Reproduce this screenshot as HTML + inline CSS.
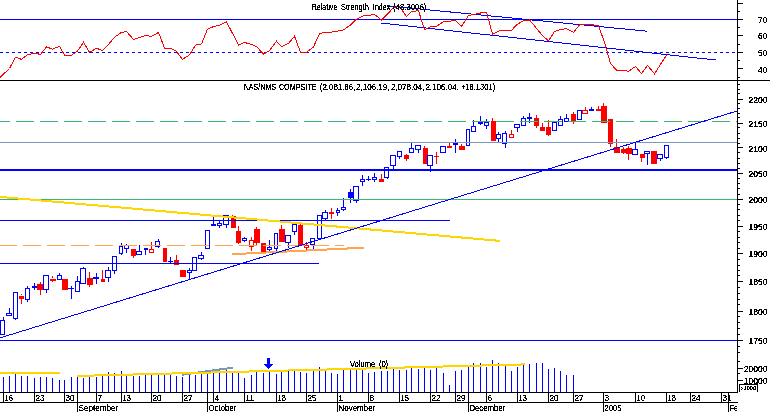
<!DOCTYPE html>
<html><head><meta charset="utf-8"><title>Chart</title>
<style>
html,body{margin:0;padding:0;background:#fff;width:770px;height:412px;overflow:hidden;}
svg{display:block;}
text{font-family:"Liberation Sans",sans-serif;fill:#000;}
</style></head>
<body>
<svg width="770" height="412" viewBox="0 0 770 412" shape-rendering="crispEdges">
<defs><filter id="th" x="0" y="0" width="100%" height="100%" filterUnits="userSpaceOnUse" color-interpolation-filters="sRGB"><feComponentTransfer><feFuncA type="discrete" tableValues="0 1 1"/></feComponentTransfer></filter><clipPath id="cp"><rect x="0" y="392" width="737" height="20"/></clipPath></defs>
<rect x="0" y="0" width="770" height="412" fill="#fff"/>
<rect x="0" y="19" width="737" height="1" fill="#0000ff"/>
<line x1="0" y1="52.5" x2="737" y2="52.5" stroke="#0000ff" stroke-width="1" stroke-dasharray="3 3"/>
<line x1="387" y1="5.8" x2="647" y2="31.2" stroke="#0000ff" stroke-width="1" />
<line x1="381" y1="23" x2="715.5" y2="60" stroke="#0000ff" stroke-width="1" />
<polyline fill="none" stroke="#ff0000" stroke-width="1" points="0,77.4 9.5,68.5 15.5,57.2 21.5,59.4 27.5,54.7 34.5,53.2 40.5,54.4 46.5,46.9 52.5,49.1 59.5,46.4 64.5,55.2 71.5,55.2 77.5,51.1 83.5,42.4 89.5,52.4 96.5,48.2 102.5,50.6 108.5,44.4 114.5,37.3 121.5,32.4 126.5,31.6 133.5,39.4 139.5,37.4 145.5,35.6 151.5,36.4 158.5,32.4 164.5,48.1 170.5,48.4 176.5,51.4 182.5,59.4 189.5,54.9 195.5,45.2 201.5,43.9 207.5,29.1 213.5,26.6 219.5,25.3 226.5,22 232.5,33.3 238.5,45.2 244.5,42.4 251.5,44.5 256.5,46.5 263.5,54.2 269.5,50.7 276.5,41.2 281.5,46.5 288.5,43.5 294.5,36.2 300.5,52.4 306.5,52.4 313.5,46.9 319.5,33.6 325.5,32.4 331.5,32.1 337.5,31.1 343.5,29.9 350.5,24.9 356.5,19.1 362.5,16.1 368.5,15.3 374.5,14.5 381.5,19.9 387.5,14.1 393.5,7.5 399.5,6.3 406.5,16.6 411.5,11.3 418.5,10.8 424.5,29.6 430.5,26.6 436.5,26.3 443.5,21.6 449.5,21.3 455.5,20.3 461.5,26.3 468.5,15.5 473.5,14.6 480.5,13 486.5,12.1 492.5,34.1 498.5,31.1 505.5,30.3 511.5,30.3 517.5,24.1 523.5,20.8 529.5,19.9 536.5,28.3 542.5,35.7 548.5,40.7 554.5,31.6 560.5,29.6 566.5,28.6 573.5,32.4 579.5,24.9 585.5,24.6 591.5,24.6 598.5,25.8 604.5,42.4 610.5,63.5 616.5,70.2 623.5,70.5 628.5,71.3 635.5,66.5 641.5,73.5 647.5,65.5 654.5,73.8 660.5,64.4 666.5,55.2"/>
<rect x="3" y="317" width="1" height="3" fill="#0000ff"/>
<rect x="0" y="320" width="5" height="1" fill="#0000ff"/>
<rect x="0" y="334" width="5" height="1" fill="#0000ff"/>
<rect x="0" y="320" width="1" height="15" fill="#0000ff"/>
<rect x="4" y="320" width="1" height="15" fill="#0000ff"/>
<rect x="9" y="308" width="1" height="5" fill="#0000ff"/>
<rect x="6" y="313" width="6" height="1" fill="#0000ff"/>
<rect x="6" y="315" width="6" height="1" fill="#0000ff"/>
<rect x="6" y="313" width="1" height="3" fill="#0000ff"/>
<rect x="11" y="313" width="1" height="3" fill="#0000ff"/>
<rect x="15" y="319" width="1" height="1" fill="#0000ff"/>
<rect x="13" y="292" width="5" height="1" fill="#0000ff"/>
<rect x="13" y="318" width="5" height="1" fill="#0000ff"/>
<rect x="13" y="292" width="1" height="27" fill="#0000ff"/>
<rect x="17" y="292" width="1" height="27" fill="#0000ff"/>
<rect x="21" y="294" width="1" height="1" fill="#ff0000"/>
<rect x="21" y="299" width="1" height="5" fill="#ff0000"/>
<rect x="19" y="296" width="5" height="3" fill="#ff0000"/>
<rect x="27" y="286" width="1" height="2" fill="#0000ff"/>
<rect x="27" y="300" width="1" height="2" fill="#0000ff"/>
<rect x="25" y="288" width="5" height="1" fill="#0000ff"/>
<rect x="25" y="299" width="5" height="1" fill="#0000ff"/>
<rect x="25" y="288" width="1" height="12" fill="#0000ff"/>
<rect x="29" y="288" width="1" height="12" fill="#0000ff"/>
<rect x="34" y="283" width="1" height="3" fill="#0000ff"/>
<rect x="34" y="288" width="1" height="2" fill="#0000ff"/>
<rect x="32" y="286" width="5" height="2" fill="#0000ff"/>
<rect x="40" y="282" width="1" height="2" fill="#ff0000"/>
<rect x="40" y="290" width="1" height="5" fill="#ff0000"/>
<rect x="37" y="284" width="6" height="6" fill="#ff0000"/>
<rect x="46" y="290" width="1" height="3" fill="#0000ff"/>
<rect x="43" y="275" width="6" height="1" fill="#0000ff"/>
<rect x="43" y="289" width="6" height="1" fill="#0000ff"/>
<rect x="43" y="275" width="1" height="15" fill="#0000ff"/>
<rect x="48" y="275" width="1" height="15" fill="#0000ff"/>
<rect x="52" y="276" width="1" height="2" fill="#ff0000"/>
<rect x="52" y="281" width="1" height="1" fill="#ff0000"/>
<rect x="50" y="279" width="6" height="2" fill="#ff0000"/>
<rect x="59" y="273" width="1" height="2" fill="#0000ff"/>
<rect x="57" y="275" width="5" height="1" fill="#0000ff"/>
<rect x="57" y="279" width="5" height="1" fill="#0000ff"/>
<rect x="57" y="275" width="1" height="5" fill="#0000ff"/>
<rect x="61" y="275" width="1" height="5" fill="#0000ff"/>
<rect x="62" y="279" width="6" height="11" fill="#ff0000"/>
<rect x="71" y="286" width="1" height="2" fill="#0000ff"/>
<rect x="71" y="289" width="1" height="10" fill="#0000ff"/>
<rect x="68" y="288" width="6" height="1" fill="#0000ff"/>
<rect x="77" y="276" width="1" height="5" fill="#0000ff"/>
<rect x="75" y="281" width="5" height="1" fill="#0000ff"/>
<rect x="75" y="291" width="5" height="1" fill="#0000ff"/>
<rect x="75" y="281" width="1" height="11" fill="#0000ff"/>
<rect x="79" y="281" width="1" height="11" fill="#0000ff"/>
<rect x="83" y="267" width="1" height="1" fill="#0000ff"/>
<rect x="80" y="268" width="6" height="1" fill="#0000ff"/>
<rect x="80" y="283" width="6" height="1" fill="#0000ff"/>
<rect x="80" y="268" width="1" height="16" fill="#0000ff"/>
<rect x="85" y="268" width="1" height="16" fill="#0000ff"/>
<rect x="89" y="272" width="1" height="6" fill="#ff0000"/>
<rect x="89" y="285" width="1" height="2" fill="#ff0000"/>
<rect x="87" y="278" width="6" height="7" fill="#ff0000"/>
<rect x="96" y="273" width="1" height="4" fill="#0000ff"/>
<rect x="96" y="279" width="1" height="5" fill="#0000ff"/>
<rect x="93" y="277" width="6" height="2" fill="#0000ff"/>
<rect x="102" y="270" width="1" height="9" fill="#ff0000"/>
<rect x="101" y="279" width="4" height="3" fill="#ff0000"/>
<rect x="108" y="267" width="1" height="3" fill="#0000ff"/>
<rect x="108" y="278" width="1" height="4" fill="#0000ff"/>
<rect x="105" y="270" width="6" height="1" fill="#0000ff"/>
<rect x="105" y="277" width="6" height="1" fill="#0000ff"/>
<rect x="105" y="270" width="1" height="8" fill="#0000ff"/>
<rect x="110" y="270" width="1" height="8" fill="#0000ff"/>
<rect x="114" y="271" width="1" height="3" fill="#0000ff"/>
<rect x="112" y="256" width="5" height="1" fill="#0000ff"/>
<rect x="112" y="270" width="5" height="1" fill="#0000ff"/>
<rect x="112" y="256" width="1" height="15" fill="#0000ff"/>
<rect x="116" y="256" width="1" height="15" fill="#0000ff"/>
<rect x="121" y="243" width="1" height="3" fill="#0000ff"/>
<rect x="121" y="254" width="1" height="1" fill="#0000ff"/>
<rect x="119" y="246" width="4" height="1" fill="#0000ff"/>
<rect x="119" y="253" width="4" height="1" fill="#0000ff"/>
<rect x="119" y="246" width="1" height="8" fill="#0000ff"/>
<rect x="122" y="246" width="1" height="8" fill="#0000ff"/>
<rect x="126" y="244" width="1" height="1" fill="#0000ff"/>
<rect x="126" y="249" width="1" height="4" fill="#0000ff"/>
<rect x="124" y="245" width="5" height="1" fill="#0000ff"/>
<rect x="124" y="248" width="5" height="1" fill="#0000ff"/>
<rect x="124" y="245" width="1" height="4" fill="#0000ff"/>
<rect x="128" y="245" width="1" height="4" fill="#0000ff"/>
<rect x="133" y="256" width="1" height="2" fill="#ff0000"/>
<rect x="131" y="249" width="5" height="7" fill="#ff0000"/>
<rect x="139" y="245" width="1" height="6" fill="#0000ff"/>
<rect x="136" y="251" width="6" height="1" fill="#0000ff"/>
<rect x="136" y="254" width="6" height="1" fill="#0000ff"/>
<rect x="136" y="251" width="1" height="4" fill="#0000ff"/>
<rect x="141" y="251" width="1" height="4" fill="#0000ff"/>
<rect x="145" y="250" width="1" height="5" fill="#0000ff"/>
<rect x="144" y="248" width="4" height="2" fill="#0000ff"/>
<rect x="151" y="242" width="1" height="7" fill="#ff0000"/>
<rect x="149" y="249" width="5" height="1" fill="#ff0000"/>
<rect x="149" y="252" width="5" height="1" fill="#ff0000"/>
<rect x="149" y="249" width="1" height="4" fill="#ff0000"/>
<rect x="153" y="249" width="1" height="4" fill="#ff0000"/>
<rect x="158" y="239" width="1" height="2" fill="#0000ff"/>
<rect x="158" y="247" width="1" height="1" fill="#0000ff"/>
<rect x="155" y="241" width="5" height="1" fill="#0000ff"/>
<rect x="155" y="246" width="5" height="1" fill="#0000ff"/>
<rect x="155" y="241" width="1" height="6" fill="#0000ff"/>
<rect x="159" y="241" width="1" height="6" fill="#0000ff"/>
<rect x="163" y="248" width="4" height="14" fill="#ff0000"/>
<rect x="170" y="257" width="1" height="4" fill="#0000ff"/>
<rect x="170" y="262" width="1" height="2" fill="#0000ff"/>
<rect x="168" y="261" width="5" height="1" fill="#0000ff"/>
<rect x="176" y="255" width="1" height="5" fill="#ff0000"/>
<rect x="174" y="260" width="5" height="5" fill="#ff0000"/>
<rect x="180" y="270" width="6" height="7" fill="#ff0000"/>
<rect x="189" y="268" width="1" height="2" fill="#0000ff"/>
<rect x="189" y="273" width="1" height="7" fill="#0000ff"/>
<rect x="187" y="270" width="5" height="1" fill="#0000ff"/>
<rect x="187" y="272" width="5" height="1" fill="#0000ff"/>
<rect x="187" y="270" width="1" height="3" fill="#0000ff"/>
<rect x="191" y="270" width="1" height="3" fill="#0000ff"/>
<rect x="192" y="257" width="5" height="1" fill="#0000ff"/>
<rect x="192" y="270" width="5" height="1" fill="#0000ff"/>
<rect x="192" y="257" width="1" height="14" fill="#0000ff"/>
<rect x="196" y="257" width="1" height="14" fill="#0000ff"/>
<rect x="201" y="252" width="1" height="3" fill="#0000ff"/>
<rect x="201" y="259" width="1" height="1" fill="#0000ff"/>
<rect x="198" y="255" width="6" height="1" fill="#0000ff"/>
<rect x="198" y="258" width="6" height="1" fill="#0000ff"/>
<rect x="198" y="255" width="1" height="4" fill="#0000ff"/>
<rect x="203" y="255" width="1" height="4" fill="#0000ff"/>
<rect x="205" y="230" width="5" height="1" fill="#0000ff"/>
<rect x="205" y="248" width="5" height="1" fill="#0000ff"/>
<rect x="205" y="230" width="1" height="19" fill="#0000ff"/>
<rect x="209" y="230" width="1" height="19" fill="#0000ff"/>
<rect x="213" y="217" width="1" height="7" fill="#0000ff"/>
<rect x="211" y="224" width="5" height="2" fill="#0000ff"/>
<rect x="219" y="220" width="1" height="3" fill="#0000ff"/>
<rect x="219" y="226" width="1" height="2" fill="#0000ff"/>
<rect x="217" y="223" width="5" height="1" fill="#0000ff"/>
<rect x="217" y="225" width="5" height="1" fill="#0000ff"/>
<rect x="217" y="223" width="1" height="3" fill="#0000ff"/>
<rect x="221" y="223" width="1" height="3" fill="#0000ff"/>
<rect x="226" y="225" width="1" height="3" fill="#0000ff"/>
<rect x="223" y="215" width="6" height="1" fill="#0000ff"/>
<rect x="223" y="224" width="6" height="1" fill="#0000ff"/>
<rect x="223" y="215" width="1" height="10" fill="#0000ff"/>
<rect x="228" y="215" width="1" height="10" fill="#0000ff"/>
<rect x="232" y="215" width="1" height="1" fill="#ff0000"/>
<rect x="231" y="216" width="5" height="12" fill="#ff0000"/>
<rect x="238" y="226" width="1" height="5" fill="#ff0000"/>
<rect x="238" y="243" width="1" height="1" fill="#ff0000"/>
<rect x="236" y="231" width="5" height="12" fill="#ff0000"/>
<rect x="244" y="237" width="1" height="1" fill="#0000ff"/>
<rect x="244" y="241" width="1" height="1" fill="#0000ff"/>
<rect x="242" y="238" width="5" height="1" fill="#0000ff"/>
<rect x="242" y="240" width="5" height="1" fill="#0000ff"/>
<rect x="242" y="238" width="1" height="3" fill="#0000ff"/>
<rect x="246" y="238" width="1" height="3" fill="#0000ff"/>
<rect x="251" y="237" width="1" height="3" fill="#ff0000"/>
<rect x="251" y="247" width="1" height="4" fill="#ff0000"/>
<rect x="249" y="240" width="5" height="1" fill="#ff0000"/>
<rect x="249" y="246" width="5" height="1" fill="#ff0000"/>
<rect x="249" y="240" width="1" height="7" fill="#ff0000"/>
<rect x="253" y="240" width="1" height="7" fill="#ff0000"/>
<rect x="256" y="227" width="1" height="2" fill="#ff0000"/>
<rect x="256" y="243" width="1" height="2" fill="#ff0000"/>
<rect x="254" y="229" width="6" height="14" fill="#ff0000"/>
<rect x="261" y="243" width="5" height="9" fill="#ff0000"/>
<rect x="269" y="240" width="1" height="7" fill="#0000ff"/>
<rect x="269" y="250" width="1" height="2" fill="#0000ff"/>
<rect x="267" y="247" width="5" height="1" fill="#0000ff"/>
<rect x="267" y="249" width="5" height="1" fill="#0000ff"/>
<rect x="267" y="247" width="1" height="3" fill="#0000ff"/>
<rect x="271" y="247" width="1" height="3" fill="#0000ff"/>
<rect x="276" y="249" width="1" height="2" fill="#0000ff"/>
<rect x="274" y="233" width="4" height="1" fill="#0000ff"/>
<rect x="274" y="248" width="4" height="1" fill="#0000ff"/>
<rect x="274" y="233" width="1" height="16" fill="#0000ff"/>
<rect x="277" y="233" width="1" height="16" fill="#0000ff"/>
<rect x="281" y="225" width="1" height="4" fill="#ff0000"/>
<rect x="279" y="229" width="6" height="13" fill="#ff0000"/>
<rect x="288" y="243" width="1" height="5" fill="#0000ff"/>
<rect x="285" y="235" width="6" height="1" fill="#0000ff"/>
<rect x="285" y="242" width="6" height="1" fill="#0000ff"/>
<rect x="285" y="235" width="1" height="8" fill="#0000ff"/>
<rect x="290" y="235" width="1" height="8" fill="#0000ff"/>
<rect x="294" y="232" width="1" height="3" fill="#0000ff"/>
<rect x="292" y="224" width="5" height="1" fill="#0000ff"/>
<rect x="292" y="231" width="5" height="1" fill="#0000ff"/>
<rect x="292" y="224" width="1" height="8" fill="#0000ff"/>
<rect x="296" y="224" width="1" height="8" fill="#0000ff"/>
<rect x="300" y="222" width="1" height="3" fill="#ff0000"/>
<rect x="298" y="225" width="5" height="20" fill="#ff0000"/>
<rect x="306" y="242" width="1" height="3" fill="#ff0000"/>
<rect x="306" y="248" width="1" height="2" fill="#ff0000"/>
<rect x="304" y="245" width="5" height="1" fill="#ff0000"/>
<rect x="304" y="247" width="5" height="1" fill="#ff0000"/>
<rect x="304" y="245" width="1" height="3" fill="#ff0000"/>
<rect x="308" y="245" width="1" height="3" fill="#ff0000"/>
<rect x="313" y="245" width="1" height="4" fill="#0000ff"/>
<rect x="310" y="238" width="5" height="1" fill="#0000ff"/>
<rect x="310" y="244" width="5" height="1" fill="#0000ff"/>
<rect x="310" y="238" width="1" height="7" fill="#0000ff"/>
<rect x="314" y="238" width="1" height="7" fill="#0000ff"/>
<rect x="319" y="239" width="1" height="1" fill="#0000ff"/>
<rect x="317" y="215" width="5" height="1" fill="#0000ff"/>
<rect x="317" y="238" width="5" height="1" fill="#0000ff"/>
<rect x="317" y="215" width="1" height="24" fill="#0000ff"/>
<rect x="321" y="215" width="1" height="24" fill="#0000ff"/>
<rect x="325" y="210" width="1" height="2" fill="#0000ff"/>
<rect x="325" y="219" width="1" height="1" fill="#0000ff"/>
<rect x="322" y="212" width="6" height="1" fill="#0000ff"/>
<rect x="322" y="218" width="6" height="1" fill="#0000ff"/>
<rect x="322" y="212" width="1" height="7" fill="#0000ff"/>
<rect x="327" y="212" width="1" height="7" fill="#0000ff"/>
<rect x="331" y="208" width="1" height="4" fill="#ff0000"/>
<rect x="331" y="214" width="1" height="5" fill="#ff0000"/>
<rect x="329" y="212" width="5" height="2" fill="#ff0000"/>
<rect x="337" y="208" width="1" height="2" fill="#0000ff"/>
<rect x="337" y="213" width="1" height="3" fill="#0000ff"/>
<rect x="336" y="210" width="4" height="1" fill="#0000ff"/>
<rect x="336" y="212" width="4" height="1" fill="#0000ff"/>
<rect x="336" y="210" width="1" height="3" fill="#0000ff"/>
<rect x="339" y="210" width="1" height="3" fill="#0000ff"/>
<rect x="343" y="198" width="1" height="9" fill="#0000ff"/>
<rect x="343" y="210" width="1" height="1" fill="#0000ff"/>
<rect x="341" y="207" width="5" height="1" fill="#0000ff"/>
<rect x="341" y="209" width="5" height="1" fill="#0000ff"/>
<rect x="341" y="207" width="1" height="3" fill="#0000ff"/>
<rect x="345" y="207" width="1" height="3" fill="#0000ff"/>
<rect x="350" y="189" width="1" height="3" fill="#0000ff"/>
<rect x="350" y="198" width="1" height="5" fill="#0000ff"/>
<rect x="348" y="192" width="5" height="6" fill="#0000ff"/>
<rect x="356" y="201" width="1" height="2" fill="#0000ff"/>
<rect x="353" y="186" width="6" height="1" fill="#0000ff"/>
<rect x="353" y="200" width="6" height="1" fill="#0000ff"/>
<rect x="353" y="186" width="1" height="15" fill="#0000ff"/>
<rect x="358" y="186" width="1" height="15" fill="#0000ff"/>
<rect x="362" y="175" width="1" height="4" fill="#0000ff"/>
<rect x="362" y="182" width="1" height="4" fill="#0000ff"/>
<rect x="360" y="179" width="5" height="1" fill="#0000ff"/>
<rect x="360" y="181" width="5" height="1" fill="#0000ff"/>
<rect x="360" y="179" width="1" height="3" fill="#0000ff"/>
<rect x="364" y="179" width="1" height="3" fill="#0000ff"/>
<rect x="368" y="176" width="1" height="3" fill="#0000ff"/>
<rect x="368" y="180" width="1" height="1" fill="#0000ff"/>
<rect x="366" y="179" width="5" height="1" fill="#0000ff"/>
<rect x="374" y="173" width="1" height="4" fill="#0000ff"/>
<rect x="374" y="180" width="1" height="2" fill="#0000ff"/>
<rect x="372" y="177" width="5" height="1" fill="#0000ff"/>
<rect x="372" y="179" width="5" height="1" fill="#0000ff"/>
<rect x="372" y="177" width="1" height="3" fill="#0000ff"/>
<rect x="376" y="177" width="1" height="3" fill="#0000ff"/>
<rect x="381" y="174" width="1" height="5" fill="#ff0000"/>
<rect x="379" y="179" width="5" height="3" fill="#ff0000"/>
<rect x="387" y="178" width="1" height="1" fill="#0000ff"/>
<rect x="384" y="167" width="5" height="1" fill="#0000ff"/>
<rect x="384" y="177" width="5" height="1" fill="#0000ff"/>
<rect x="384" y="167" width="1" height="11" fill="#0000ff"/>
<rect x="388" y="167" width="1" height="11" fill="#0000ff"/>
<rect x="393" y="166" width="1" height="3" fill="#0000ff"/>
<rect x="390" y="155" width="6" height="1" fill="#0000ff"/>
<rect x="390" y="165" width="6" height="1" fill="#0000ff"/>
<rect x="390" y="155" width="1" height="11" fill="#0000ff"/>
<rect x="395" y="155" width="1" height="11" fill="#0000ff"/>
<rect x="399" y="157" width="1" height="2" fill="#0000ff"/>
<rect x="397" y="151" width="5" height="1" fill="#0000ff"/>
<rect x="397" y="156" width="5" height="1" fill="#0000ff"/>
<rect x="397" y="151" width="1" height="6" fill="#0000ff"/>
<rect x="401" y="151" width="1" height="6" fill="#0000ff"/>
<rect x="406" y="154" width="1" height="1" fill="#ff0000"/>
<rect x="406" y="159" width="1" height="2" fill="#ff0000"/>
<rect x="404" y="155" width="5" height="4" fill="#ff0000"/>
<rect x="411" y="142" width="1" height="6" fill="#0000ff"/>
<rect x="409" y="148" width="5" height="1" fill="#0000ff"/>
<rect x="409" y="152" width="5" height="1" fill="#0000ff"/>
<rect x="409" y="148" width="1" height="5" fill="#0000ff"/>
<rect x="413" y="148" width="1" height="5" fill="#0000ff"/>
<rect x="418" y="150" width="1" height="3" fill="#0000ff"/>
<rect x="415" y="145" width="6" height="1" fill="#0000ff"/>
<rect x="415" y="149" width="6" height="1" fill="#0000ff"/>
<rect x="415" y="145" width="1" height="5" fill="#0000ff"/>
<rect x="420" y="145" width="1" height="5" fill="#0000ff"/>
<rect x="424" y="146" width="1" height="2" fill="#ff0000"/>
<rect x="423" y="148" width="5" height="16" fill="#ff0000"/>
<rect x="430" y="166" width="1" height="6" fill="#0000ff"/>
<rect x="427" y="155" width="6" height="1" fill="#0000ff"/>
<rect x="427" y="165" width="6" height="1" fill="#0000ff"/>
<rect x="427" y="155" width="1" height="11" fill="#0000ff"/>
<rect x="432" y="155" width="1" height="11" fill="#0000ff"/>
<rect x="436" y="152" width="1" height="4" fill="#ff0000"/>
<rect x="436" y="157" width="1" height="7" fill="#ff0000"/>
<rect x="434" y="156" width="5" height="1" fill="#ff0000"/>
<rect x="440" y="146" width="6" height="1" fill="#0000ff"/>
<rect x="440" y="152" width="6" height="1" fill="#0000ff"/>
<rect x="440" y="146" width="1" height="7" fill="#0000ff"/>
<rect x="445" y="146" width="1" height="7" fill="#0000ff"/>
<rect x="449" y="143" width="1" height="3" fill="#ff0000"/>
<rect x="447" y="146" width="5" height="2" fill="#ff0000"/>
<rect x="455" y="139" width="1" height="3" fill="#0000ff"/>
<rect x="455" y="145" width="1" height="8" fill="#0000ff"/>
<rect x="453" y="142" width="5" height="3" fill="#0000ff"/>
<rect x="461" y="144" width="1" height="2" fill="#ff0000"/>
<rect x="459" y="146" width="6" height="4" fill="#ff0000"/>
<rect x="466" y="129" width="4" height="1" fill="#0000ff"/>
<rect x="466" y="145" width="4" height="1" fill="#0000ff"/>
<rect x="466" y="129" width="1" height="17" fill="#0000ff"/>
<rect x="469" y="129" width="1" height="17" fill="#0000ff"/>
<rect x="473" y="120" width="1" height="6" fill="#0000ff"/>
<rect x="471" y="126" width="5" height="1" fill="#0000ff"/>
<rect x="471" y="131" width="5" height="1" fill="#0000ff"/>
<rect x="471" y="126" width="1" height="6" fill="#0000ff"/>
<rect x="475" y="126" width="1" height="6" fill="#0000ff"/>
<rect x="480" y="116" width="1" height="6" fill="#0000ff"/>
<rect x="480" y="124" width="1" height="1" fill="#0000ff"/>
<rect x="478" y="122" width="5" height="2" fill="#0000ff"/>
<rect x="486" y="119" width="1" height="3" fill="#0000ff"/>
<rect x="486" y="126" width="1" height="3" fill="#0000ff"/>
<rect x="484" y="122" width="5" height="1" fill="#0000ff"/>
<rect x="484" y="125" width="5" height="1" fill="#0000ff"/>
<rect x="484" y="122" width="1" height="4" fill="#0000ff"/>
<rect x="488" y="122" width="1" height="4" fill="#0000ff"/>
<rect x="492" y="118" width="1" height="3" fill="#ff0000"/>
<rect x="491" y="121" width="5" height="20" fill="#ff0000"/>
<rect x="498" y="132" width="1" height="2" fill="#0000ff"/>
<rect x="498" y="139" width="1" height="3" fill="#0000ff"/>
<rect x="496" y="134" width="5" height="1" fill="#0000ff"/>
<rect x="496" y="138" width="5" height="1" fill="#0000ff"/>
<rect x="496" y="134" width="1" height="5" fill="#0000ff"/>
<rect x="500" y="134" width="1" height="5" fill="#0000ff"/>
<rect x="505" y="131" width="1" height="2" fill="#0000ff"/>
<rect x="505" y="144" width="1" height="4" fill="#0000ff"/>
<rect x="502" y="133" width="5" height="1" fill="#0000ff"/>
<rect x="502" y="143" width="5" height="1" fill="#0000ff"/>
<rect x="502" y="133" width="1" height="11" fill="#0000ff"/>
<rect x="506" y="133" width="1" height="11" fill="#0000ff"/>
<rect x="511" y="130" width="1" height="4" fill="#ff0000"/>
<rect x="509" y="134" width="5" height="1" fill="#ff0000"/>
<rect x="509" y="137" width="5" height="1" fill="#ff0000"/>
<rect x="509" y="134" width="1" height="4" fill="#ff0000"/>
<rect x="513" y="134" width="1" height="4" fill="#ff0000"/>
<rect x="517" y="128" width="1" height="4" fill="#0000ff"/>
<rect x="514" y="124" width="6" height="1" fill="#0000ff"/>
<rect x="514" y="127" width="6" height="1" fill="#0000ff"/>
<rect x="514" y="124" width="1" height="4" fill="#0000ff"/>
<rect x="519" y="124" width="1" height="4" fill="#0000ff"/>
<rect x="523" y="116" width="1" height="2" fill="#0000ff"/>
<rect x="521" y="118" width="5" height="1" fill="#0000ff"/>
<rect x="521" y="125" width="5" height="1" fill="#0000ff"/>
<rect x="521" y="118" width="1" height="8" fill="#0000ff"/>
<rect x="525" y="118" width="1" height="8" fill="#0000ff"/>
<rect x="529" y="113" width="1" height="4" fill="#0000ff"/>
<rect x="529" y="119" width="1" height="4" fill="#0000ff"/>
<rect x="527" y="117" width="5" height="2" fill="#0000ff"/>
<rect x="536" y="115" width="1" height="3" fill="#ff0000"/>
<rect x="536" y="126" width="1" height="2" fill="#ff0000"/>
<rect x="534" y="118" width="5" height="8" fill="#ff0000"/>
<rect x="542" y="123" width="1" height="4" fill="#ff0000"/>
<rect x="540" y="127" width="5" height="4" fill="#ff0000"/>
<rect x="548" y="120" width="1" height="7" fill="#ff0000"/>
<rect x="548" y="135" width="1" height="1" fill="#ff0000"/>
<rect x="546" y="127" width="5" height="8" fill="#ff0000"/>
<rect x="552" y="122" width="5" height="1" fill="#0000ff"/>
<rect x="552" y="130" width="5" height="1" fill="#0000ff"/>
<rect x="552" y="122" width="1" height="9" fill="#0000ff"/>
<rect x="556" y="122" width="1" height="9" fill="#0000ff"/>
<rect x="560" y="116" width="1" height="3" fill="#0000ff"/>
<rect x="558" y="119" width="5" height="1" fill="#0000ff"/>
<rect x="558" y="125" width="5" height="1" fill="#0000ff"/>
<rect x="558" y="119" width="1" height="7" fill="#0000ff"/>
<rect x="562" y="119" width="1" height="7" fill="#0000ff"/>
<rect x="566" y="114" width="1" height="4" fill="#0000ff"/>
<rect x="564" y="118" width="5" height="1" fill="#0000ff"/>
<rect x="564" y="121" width="5" height="1" fill="#0000ff"/>
<rect x="564" y="118" width="1" height="4" fill="#0000ff"/>
<rect x="568" y="118" width="1" height="4" fill="#0000ff"/>
<rect x="573" y="112" width="1" height="2" fill="#ff0000"/>
<rect x="573" y="122" width="1" height="2" fill="#ff0000"/>
<rect x="571" y="114" width="5" height="8" fill="#ff0000"/>
<rect x="577" y="110" width="5" height="1" fill="#0000ff"/>
<rect x="577" y="119" width="5" height="1" fill="#0000ff"/>
<rect x="577" y="110" width="1" height="10" fill="#0000ff"/>
<rect x="581" y="110" width="1" height="10" fill="#0000ff"/>
<rect x="585" y="107" width="1" height="3" fill="#ff0000"/>
<rect x="582" y="110" width="6" height="1" fill="#ff0000"/>
<rect x="582" y="113" width="6" height="1" fill="#ff0000"/>
<rect x="582" y="110" width="1" height="4" fill="#ff0000"/>
<rect x="587" y="110" width="1" height="4" fill="#ff0000"/>
<rect x="591" y="107" width="1" height="2" fill="#0000ff"/>
<rect x="589" y="109" width="5" height="2" fill="#0000ff"/>
<rect x="598" y="106" width="1" height="3" fill="#ff0000"/>
<rect x="596" y="109" width="5" height="2" fill="#ff0000"/>
<rect x="603" y="103" width="1" height="3" fill="#ff0000"/>
<rect x="601" y="106" width="6" height="17" fill="#ff0000"/>
<rect x="610" y="144" width="1" height="3" fill="#ff0000"/>
<rect x="608" y="119" width="5" height="25" fill="#ff0000"/>
<rect x="616" y="139" width="1" height="8" fill="#ff0000"/>
<rect x="614" y="147" width="6" height="6" fill="#ff0000"/>
<rect x="623" y="147" width="1" height="2" fill="#ff0000"/>
<rect x="623" y="153" width="1" height="1" fill="#ff0000"/>
<rect x="621" y="149" width="5" height="4" fill="#ff0000"/>
<rect x="628" y="146" width="1" height="2" fill="#ff0000"/>
<rect x="628" y="154" width="1" height="6" fill="#ff0000"/>
<rect x="626" y="148" width="6" height="6" fill="#ff0000"/>
<rect x="635" y="142" width="1" height="7" fill="#0000ff"/>
<rect x="632" y="149" width="6" height="1" fill="#0000ff"/>
<rect x="632" y="154" width="6" height="1" fill="#0000ff"/>
<rect x="632" y="149" width="1" height="6" fill="#0000ff"/>
<rect x="637" y="149" width="1" height="6" fill="#0000ff"/>
<rect x="641" y="158" width="1" height="4" fill="#ff0000"/>
<rect x="640" y="154" width="5" height="4" fill="#ff0000"/>
<rect x="647" y="154" width="1" height="11" fill="#0000ff"/>
<rect x="644" y="151" width="6" height="1" fill="#0000ff"/>
<rect x="644" y="153" width="6" height="1" fill="#0000ff"/>
<rect x="644" y="151" width="1" height="3" fill="#0000ff"/>
<rect x="649" y="151" width="1" height="3" fill="#0000ff"/>
<rect x="651" y="151" width="6" height="13" fill="#ff0000"/>
<rect x="660" y="159" width="1" height="2" fill="#0000ff"/>
<rect x="657" y="154" width="6" height="1" fill="#0000ff"/>
<rect x="657" y="158" width="6" height="1" fill="#0000ff"/>
<rect x="657" y="154" width="1" height="5" fill="#0000ff"/>
<rect x="662" y="154" width="1" height="5" fill="#0000ff"/>
<rect x="666" y="158" width="1" height="1" fill="#0000ff"/>
<rect x="664" y="145" width="5" height="1" fill="#0000ff"/>
<rect x="664" y="157" width="5" height="1" fill="#0000ff"/>
<rect x="664" y="145" width="1" height="13" fill="#0000ff"/>
<rect x="668" y="145" width="1" height="13" fill="#0000ff"/>
<line x1="-8" y1="121.5" x2="737" y2="121.5" stroke="#3cb371" stroke-width="1" stroke-dasharray="18 6"/>
<rect x="0" y="142" width="737" height="1" fill="#7799c0"/>
<rect x="0" y="169" width="737" height="2" fill="#0000ff"/>
<rect x="0" y="199" width="737" height="1" fill="#3cb371"/>
<rect x="0" y="220" width="450" height="1" fill="#0000ff"/>
<rect x="0" y="263" width="319" height="1" fill="#0000ff"/>
<rect x="0" y="340" width="737" height="1" fill="#0000ff"/>
<line x1="-1" y1="245.5" x2="344" y2="245.5" stroke="#ffa54f" stroke-width="1" stroke-dasharray="18 6"/>
<line x1="0" y1="196.9" x2="500" y2="240.9" stroke="#ffd700" stroke-width="2" />
<line x1="232" y1="254.2" x2="364" y2="247.7" stroke="#ffa54f" stroke-width="2" />
<line x1="0" y1="337.9" x2="737" y2="111" stroke="#0000ff" stroke-width="1" />
<rect x="3" y="377" width="1" height="15" fill="#0000ff"/>
<rect x="9" y="376" width="1" height="16" fill="#0000ff"/>
<rect x="15" y="374" width="1" height="18" fill="#0000ff"/>
<rect x="21" y="376" width="1" height="16" fill="#0000ff"/>
<rect x="27" y="376" width="1" height="16" fill="#0000ff"/>
<rect x="34" y="378" width="1" height="14" fill="#0000ff"/>
<rect x="40" y="377" width="1" height="15" fill="#0000ff"/>
<rect x="46" y="377" width="1" height="15" fill="#0000ff"/>
<rect x="52" y="378" width="1" height="14" fill="#0000ff"/>
<rect x="59" y="380" width="1" height="12" fill="#0000ff"/>
<rect x="64" y="380" width="1" height="12" fill="#0000ff"/>
<rect x="71" y="377" width="1" height="15" fill="#0000ff"/>
<rect x="77" y="377" width="1" height="15" fill="#0000ff"/>
<rect x="83" y="378" width="1" height="14" fill="#0000ff"/>
<rect x="89" y="377" width="1" height="15" fill="#0000ff"/>
<rect x="96" y="377" width="1" height="15" fill="#0000ff"/>
<rect x="102" y="376" width="1" height="16" fill="#0000ff"/>
<rect x="108" y="372" width="1" height="20" fill="#0000ff"/>
<rect x="114" y="373" width="1" height="19" fill="#0000ff"/>
<rect x="121" y="371" width="1" height="21" fill="#0000ff"/>
<rect x="126" y="376" width="1" height="16" fill="#0000ff"/>
<rect x="133" y="376" width="1" height="16" fill="#0000ff"/>
<rect x="139" y="376" width="1" height="16" fill="#0000ff"/>
<rect x="145" y="375" width="1" height="17" fill="#0000ff"/>
<rect x="151" y="375" width="1" height="17" fill="#0000ff"/>
<rect x="158" y="375" width="1" height="17" fill="#0000ff"/>
<rect x="164" y="375" width="1" height="17" fill="#0000ff"/>
<rect x="170" y="375" width="1" height="17" fill="#0000ff"/>
<rect x="176" y="376" width="1" height="16" fill="#0000ff"/>
<rect x="182" y="377" width="1" height="15" fill="#0000ff"/>
<rect x="189" y="375" width="1" height="17" fill="#0000ff"/>
<rect x="195" y="375" width="1" height="17" fill="#0000ff"/>
<rect x="201" y="374" width="1" height="18" fill="#0000ff"/>
<rect x="207" y="370" width="1" height="22" fill="#0000ff"/>
<rect x="213" y="373" width="1" height="19" fill="#0000ff"/>
<rect x="219" y="373" width="1" height="19" fill="#0000ff"/>
<rect x="226" y="370" width="1" height="22" fill="#0000ff"/>
<rect x="232" y="373" width="1" height="19" fill="#0000ff"/>
<rect x="238" y="373" width="1" height="19" fill="#0000ff"/>
<rect x="244" y="378" width="1" height="14" fill="#0000ff"/>
<rect x="251" y="375" width="1" height="17" fill="#0000ff"/>
<rect x="256" y="372" width="1" height="20" fill="#0000ff"/>
<rect x="263" y="373" width="1" height="19" fill="#0000ff"/>
<rect x="269" y="372" width="1" height="20" fill="#0000ff"/>
<rect x="276" y="374" width="1" height="18" fill="#0000ff"/>
<rect x="281" y="372" width="1" height="20" fill="#0000ff"/>
<rect x="288" y="371" width="1" height="21" fill="#0000ff"/>
<rect x="294" y="371" width="1" height="21" fill="#0000ff"/>
<rect x="300" y="372" width="1" height="20" fill="#0000ff"/>
<rect x="306" y="373" width="1" height="19" fill="#0000ff"/>
<rect x="313" y="370" width="1" height="22" fill="#0000ff"/>
<rect x="319" y="367" width="1" height="25" fill="#0000ff"/>
<rect x="325" y="371" width="1" height="21" fill="#0000ff"/>
<rect x="331" y="373" width="1" height="19" fill="#0000ff"/>
<rect x="337" y="374" width="1" height="18" fill="#0000ff"/>
<rect x="343" y="369" width="1" height="23" fill="#0000ff"/>
<rect x="350" y="369" width="1" height="23" fill="#0000ff"/>
<rect x="356" y="370" width="1" height="22" fill="#0000ff"/>
<rect x="362" y="369" width="1" height="23" fill="#0000ff"/>
<rect x="368" y="373" width="1" height="19" fill="#0000ff"/>
<rect x="374" y="372" width="1" height="20" fill="#0000ff"/>
<rect x="381" y="371" width="1" height="21" fill="#0000ff"/>
<rect x="387" y="371" width="1" height="21" fill="#0000ff"/>
<rect x="393" y="369" width="1" height="23" fill="#0000ff"/>
<rect x="399" y="370" width="1" height="22" fill="#0000ff"/>
<rect x="406" y="370" width="1" height="22" fill="#0000ff"/>
<rect x="411" y="368" width="1" height="24" fill="#0000ff"/>
<rect x="418" y="369" width="1" height="23" fill="#0000ff"/>
<rect x="424" y="368" width="1" height="24" fill="#0000ff"/>
<rect x="430" y="370" width="1" height="22" fill="#0000ff"/>
<rect x="436" y="368" width="1" height="24" fill="#0000ff"/>
<rect x="443" y="373" width="1" height="19" fill="#0000ff"/>
<rect x="449" y="385" width="1" height="7" fill="#0000ff"/>
<rect x="455" y="371" width="1" height="21" fill="#0000ff"/>
<rect x="461" y="370" width="1" height="22" fill="#0000ff"/>
<rect x="468" y="367" width="1" height="25" fill="#0000ff"/>
<rect x="473" y="363" width="1" height="29" fill="#0000ff"/>
<rect x="480" y="363" width="1" height="29" fill="#0000ff"/>
<rect x="486" y="367" width="1" height="25" fill="#0000ff"/>
<rect x="492" y="360" width="1" height="32" fill="#0000ff"/>
<rect x="498" y="363" width="1" height="29" fill="#0000ff"/>
<rect x="505" y="366" width="1" height="26" fill="#0000ff"/>
<rect x="511" y="371" width="1" height="21" fill="#0000ff"/>
<rect x="517" y="367" width="1" height="25" fill="#0000ff"/>
<rect x="523" y="365" width="1" height="27" fill="#0000ff"/>
<rect x="529" y="364" width="1" height="28" fill="#0000ff"/>
<rect x="536" y="363" width="1" height="29" fill="#0000ff"/>
<rect x="542" y="363" width="1" height="29" fill="#0000ff"/>
<rect x="548" y="369" width="1" height="23" fill="#0000ff"/>
<rect x="554" y="368" width="1" height="24" fill="#0000ff"/>
<rect x="560" y="371" width="1" height="21" fill="#0000ff"/>
<rect x="566" y="375" width="1" height="17" fill="#0000ff"/>
<rect x="573" y="375" width="1" height="17" fill="#0000ff"/>
<line x1="182" y1="374.8" x2="233" y2="367.6" stroke="#7799c0" stroke-width="2" />
<rect x="0" y="372" width="60" height="2" fill="#ffd700"/>
<line x1="77.5" y1="375.94" x2="525.2" y2="364.4" stroke="#ffd700" stroke-width="2" />
<rect x="267" y="358" width="3" height="6" fill="#0000ff"/>
<rect x="264" y="364" width="9" height="1" fill="#0000ff"/>
<rect x="265" y="365" width="7" height="1" fill="#0000ff"/>
<rect x="266" y="366" width="5" height="1" fill="#0000ff"/>
<rect x="267" y="367" width="3" height="1" fill="#0000ff"/>
<rect x="268" y="368" width="1" height="1" fill="#0000ff"/>
<rect x="0" y="80" width="770" height="1" fill="#000"/>
<rect x="737" y="0" width="1" height="392" fill="#000"/>
<rect x="0" y="392" width="738" height="1" fill="#000"/>
<rect x="0" y="402" width="738" height="1" fill="#000"/>
<rect x="738" y="3" width="5" height="1" fill="#000"/>
<rect x="738" y="11" width="2" height="1" fill="#000"/>
<rect x="738" y="19" width="5" height="1" fill="#000"/>
<rect x="738" y="27" width="2" height="1" fill="#000"/>
<rect x="738" y="35" width="5" height="1" fill="#000"/>
<rect x="738" y="44" width="2" height="1" fill="#000"/>
<rect x="738" y="52" width="5" height="1" fill="#000"/>
<rect x="738" y="60" width="2" height="1" fill="#000"/>
<rect x="738" y="68" width="5" height="1" fill="#000"/>
<rect x="738" y="77" width="2" height="1" fill="#000"/>
<rect x="738" y="84" width="2" height="1" fill="#000"/>
<rect x="738" y="89" width="2" height="1" fill="#000"/>
<rect x="738" y="93" width="2" height="1" fill="#000"/>
<rect x="738" y="99" width="5" height="1" fill="#000"/>
<rect x="738" y="103" width="2" height="1" fill="#000"/>
<rect x="738" y="108" width="2" height="1" fill="#000"/>
<rect x="738" y="113" width="2" height="1" fill="#000"/>
<rect x="738" y="117" width="2" height="1" fill="#000"/>
<rect x="738" y="123" width="5" height="1" fill="#000"/>
<rect x="738" y="127" width="2" height="1" fill="#000"/>
<rect x="738" y="133" width="2" height="1" fill="#000"/>
<rect x="738" y="138" width="2" height="1" fill="#000"/>
<rect x="738" y="143" width="2" height="1" fill="#000"/>
<rect x="738" y="147" width="5" height="1" fill="#000"/>
<rect x="738" y="152" width="2" height="1" fill="#000"/>
<rect x="738" y="158" width="2" height="1" fill="#000"/>
<rect x="738" y="163" width="2" height="1" fill="#000"/>
<rect x="738" y="168" width="2" height="1" fill="#000"/>
<rect x="738" y="173" width="5" height="1" fill="#000"/>
<rect x="738" y="178" width="2" height="1" fill="#000"/>
<rect x="738" y="183" width="2" height="1" fill="#000"/>
<rect x="738" y="188" width="2" height="1" fill="#000"/>
<rect x="738" y="194" width="2" height="1" fill="#000"/>
<rect x="738" y="199" width="5" height="1" fill="#000"/>
<rect x="738" y="204" width="2" height="1" fill="#000"/>
<rect x="738" y="209" width="2" height="1" fill="#000"/>
<rect x="738" y="215" width="2" height="1" fill="#000"/>
<rect x="738" y="220" width="2" height="1" fill="#000"/>
<rect x="738" y="226" width="5" height="1" fill="#000"/>
<rect x="738" y="231" width="2" height="1" fill="#000"/>
<rect x="738" y="237" width="2" height="1" fill="#000"/>
<rect x="738" y="242" width="2" height="1" fill="#000"/>
<rect x="738" y="248" width="2" height="1" fill="#000"/>
<rect x="738" y="253" width="5" height="1" fill="#000"/>
<rect x="738" y="259" width="2" height="1" fill="#000"/>
<rect x="738" y="265" width="2" height="1" fill="#000"/>
<rect x="738" y="270" width="2" height="1" fill="#000"/>
<rect x="738" y="275" width="2" height="1" fill="#000"/>
<rect x="738" y="281" width="5" height="1" fill="#000"/>
<rect x="738" y="287" width="2" height="1" fill="#000"/>
<rect x="738" y="293" width="2" height="1" fill="#000"/>
<rect x="738" y="299" width="2" height="1" fill="#000"/>
<rect x="738" y="304" width="2" height="1" fill="#000"/>
<rect x="738" y="311" width="5" height="1" fill="#000"/>
<rect x="738" y="316" width="2" height="1" fill="#000"/>
<rect x="738" y="322" width="2" height="1" fill="#000"/>
<rect x="738" y="328" width="2" height="1" fill="#000"/>
<rect x="738" y="334" width="2" height="1" fill="#000"/>
<rect x="738" y="340" width="5" height="1" fill="#000"/>
<rect x="738" y="346" width="2" height="1" fill="#000"/>
<rect x="738" y="352" width="2" height="1" fill="#000"/>
<rect x="738" y="361" width="2" height="1" fill="#000"/>
<rect x="738" y="368" width="5" height="1" fill="#000"/>
<rect x="738" y="373" width="2" height="1" fill="#000"/>
<rect x="738" y="380" width="5" height="1" fill="#000"/>
<rect x="739" y="384" width="19" height="1" fill="#000"/>
<rect x="739" y="384" width="1" height="8" fill="#000"/>
<rect x="757" y="382" width="1" height="10" fill="#000"/>
<rect x="3" y="392" width="1" height="10" fill="#000"/>
<rect x="34" y="392" width="1" height="10" fill="#000"/>
<rect x="64" y="392" width="1" height="10" fill="#000"/>
<rect x="96" y="392" width="1" height="10" fill="#000"/>
<rect x="121" y="392" width="1" height="10" fill="#000"/>
<rect x="151" y="392" width="1" height="10" fill="#000"/>
<rect x="182" y="392" width="1" height="10" fill="#000"/>
<rect x="213" y="392" width="1" height="10" fill="#000"/>
<rect x="244" y="392" width="1" height="10" fill="#000"/>
<rect x="276" y="392" width="1" height="10" fill="#000"/>
<rect x="306" y="392" width="1" height="10" fill="#000"/>
<rect x="337" y="392" width="1" height="10" fill="#000"/>
<rect x="368" y="392" width="1" height="10" fill="#000"/>
<rect x="399" y="392" width="1" height="10" fill="#000"/>
<rect x="430" y="392" width="1" height="10" fill="#000"/>
<rect x="455" y="392" width="1" height="10" fill="#000"/>
<rect x="486" y="392" width="1" height="10" fill="#000"/>
<rect x="517" y="392" width="1" height="10" fill="#000"/>
<rect x="548" y="392" width="1" height="10" fill="#000"/>
<rect x="573" y="392" width="1" height="10" fill="#000"/>
<rect x="603" y="392" width="1" height="10" fill="#000"/>
<rect x="635" y="392" width="1" height="10" fill="#000"/>
<rect x="666" y="392" width="1" height="10" fill="#000"/>
<rect x="690" y="392" width="1" height="10" fill="#000"/>
<rect x="721" y="392" width="1" height="10" fill="#000"/>
<rect x="77" y="392" width="1" height="20" fill="#000"/>
<rect x="207" y="392" width="1" height="20" fill="#000"/>
<rect x="337" y="392" width="1" height="20" fill="#000"/>
<rect x="468" y="392" width="1" height="20" fill="#000"/>
<rect x="603" y="392" width="1" height="20" fill="#000"/>
<rect x="728" y="392" width="1" height="20" fill="#000"/>
<g filter="url(#th)">
<text x="767.4" y="23" text-anchor="end" font-size="8.5" textLength="9.4" lengthAdjust="spacingAndGlyphs" >70</text>
<text x="767.4" y="39" text-anchor="end" font-size="8.5" textLength="9.4" lengthAdjust="spacingAndGlyphs" >60</text>
<text x="767.4" y="56" text-anchor="end" font-size="8.5" textLength="9.4" lengthAdjust="spacingAndGlyphs" >50</text>
<text x="767.4" y="73" text-anchor="end" font-size="8.5" textLength="9.4" lengthAdjust="spacingAndGlyphs" >40</text>
<text x="767.4" y="103" text-anchor="end" font-size="8.5" textLength="19" lengthAdjust="spacingAndGlyphs" >2200</text>
<text x="767.4" y="127" text-anchor="end" font-size="8.5" textLength="19" lengthAdjust="spacingAndGlyphs" >2150</text>
<text x="767.4" y="152" text-anchor="end" font-size="8.5" textLength="19" lengthAdjust="spacingAndGlyphs" >2100</text>
<text x="767.4" y="177" text-anchor="end" font-size="8.5" textLength="19" lengthAdjust="spacingAndGlyphs" >2050</text>
<text x="767.4" y="203" text-anchor="end" font-size="8.5" textLength="19" lengthAdjust="spacingAndGlyphs" >2000</text>
<text x="767.4" y="230" text-anchor="end" font-size="8.5" textLength="19" lengthAdjust="spacingAndGlyphs" >1950</text>
<text x="767.4" y="257" text-anchor="end" font-size="8.5" textLength="19" lengthAdjust="spacingAndGlyphs" >1900</text>
<text x="767.4" y="285" text-anchor="end" font-size="8.5" textLength="19" lengthAdjust="spacingAndGlyphs" >1850</text>
<text x="767.4" y="315" text-anchor="end" font-size="8.5" textLength="19" lengthAdjust="spacingAndGlyphs" >1800</text>
<text x="767.4" y="344" text-anchor="end" font-size="8.5" textLength="19" lengthAdjust="spacingAndGlyphs" >1750</text>
<text x="767.4" y="372" text-anchor="end" font-size="8.5" >20000</text>
<text x="767.4" y="384" text-anchor="end" font-size="8.5" >10000</text>
<text x="741" y="390" text-anchor="start" font-size="6" textLength="15" lengthAdjust="spacingAndGlyphs" >x1000</text>
<text x="4.6" y="401" text-anchor="start" font-size="8.5" textLength="8.2" lengthAdjust="spacingAndGlyphs" >16</text>
<text x="35.6" y="401" text-anchor="start" font-size="8.5" textLength="9" lengthAdjust="spacingAndGlyphs" >23</text>
<text x="65.6" y="401" text-anchor="start" font-size="8.5" textLength="9" lengthAdjust="spacingAndGlyphs" >30</text>
<text x="97.6" y="401" text-anchor="start" font-size="8.5" textLength="4.6" lengthAdjust="spacingAndGlyphs" >7</text>
<text x="122.6" y="401" text-anchor="start" font-size="8.5" textLength="8.2" lengthAdjust="spacingAndGlyphs" >13</text>
<text x="152.6" y="401" text-anchor="start" font-size="8.5" textLength="9" lengthAdjust="spacingAndGlyphs" >20</text>
<text x="183.6" y="401" text-anchor="start" font-size="8.5" textLength="9" lengthAdjust="spacingAndGlyphs" >27</text>
<text x="214.6" y="401" text-anchor="start" font-size="8.5" textLength="4.6" lengthAdjust="spacingAndGlyphs" >4</text>
<text x="245.6" y="401" text-anchor="start" font-size="8.5" textLength="8.2" lengthAdjust="spacingAndGlyphs" >11</text>
<text x="277.6" y="401" text-anchor="start" font-size="8.5" textLength="8.2" lengthAdjust="spacingAndGlyphs" >18</text>
<text x="307.6" y="401" text-anchor="start" font-size="8.5" textLength="9" lengthAdjust="spacingAndGlyphs" >25</text>
<text x="338.6" y="401" text-anchor="start" font-size="8.5" textLength="4.6" lengthAdjust="spacingAndGlyphs" >1</text>
<text x="369.6" y="401" text-anchor="start" font-size="8.5" textLength="4.6" lengthAdjust="spacingAndGlyphs" >8</text>
<text x="400.6" y="401" text-anchor="start" font-size="8.5" textLength="8.2" lengthAdjust="spacingAndGlyphs" >15</text>
<text x="431.6" y="401" text-anchor="start" font-size="8.5" textLength="9" lengthAdjust="spacingAndGlyphs" >22</text>
<text x="456.6" y="401" text-anchor="start" font-size="8.5" textLength="9" lengthAdjust="spacingAndGlyphs" >29</text>
<text x="487.6" y="401" text-anchor="start" font-size="8.5" textLength="4.6" lengthAdjust="spacingAndGlyphs" >6</text>
<text x="518.6" y="401" text-anchor="start" font-size="8.5" textLength="8.2" lengthAdjust="spacingAndGlyphs" >13</text>
<text x="549.6" y="401" text-anchor="start" font-size="8.5" textLength="9" lengthAdjust="spacingAndGlyphs" >20</text>
<text x="574.6" y="401" text-anchor="start" font-size="8.5" textLength="9" lengthAdjust="spacingAndGlyphs" >27</text>
<text x="604.6" y="401" text-anchor="start" font-size="8.5" textLength="4.6" lengthAdjust="spacingAndGlyphs" >3</text>
<text x="636.6" y="401" text-anchor="start" font-size="8.5" textLength="8.2" lengthAdjust="spacingAndGlyphs" >10</text>
<text x="667.6" y="401" text-anchor="start" font-size="8.5" textLength="8.2" lengthAdjust="spacingAndGlyphs" >18</text>
<text x="691.6" y="401" text-anchor="start" font-size="8.5" textLength="9" lengthAdjust="spacingAndGlyphs" >24</text>
<text x="722.6" y="401" text-anchor="start" font-size="8.5" textLength="9" lengthAdjust="spacingAndGlyphs" >31</text>
<text x="78.4" y="411" text-anchor="start" font-size="8.5" textLength="40" lengthAdjust="spacingAndGlyphs" clip-path="url(#cp)">September</text>
<text x="208.4" y="411" text-anchor="start" font-size="8.5" textLength="28" lengthAdjust="spacingAndGlyphs" clip-path="url(#cp)">October</text>
<text x="338.4" y="411" text-anchor="start" font-size="8.5" textLength="37" lengthAdjust="spacingAndGlyphs" clip-path="url(#cp)">November</text>
<text x="469.4" y="411" text-anchor="start" font-size="8.5" textLength="36" lengthAdjust="spacingAndGlyphs" clip-path="url(#cp)">December</text>
<text x="604.4" y="411" text-anchor="start" font-size="8.5" textLength="17" lengthAdjust="spacingAndGlyphs" clip-path="url(#cp)">2005</text>
<text x="729.4" y="411" text-anchor="start" font-size="8.5" textLength="9" lengthAdjust="spacingAndGlyphs" clip-path="url(#cp)">Fe</text>
<text y="10" font-size="8.5"><tspan x="311.7" textLength="25.7" lengthAdjust="spacingAndGlyphs">Relative</tspan> <tspan x="341" textLength="27.8" lengthAdjust="spacingAndGlyphs">Strength</tspan> <tspan x="373" textLength="17.2" lengthAdjust="spacingAndGlyphs">Index</tspan> <tspan x="393" textLength="33.4" lengthAdjust="spacingAndGlyphs">(48.3006)</tspan></text>
<text y="90" font-size="8.5"><tspan x="243.7" textLength="32.5" lengthAdjust="spacingAndGlyphs">NAS/NMS</tspan> <tspan x="278.9" textLength="37.8" lengthAdjust="spacingAndGlyphs">COMPSITE</tspan> <tspan x="319.8" textLength="35.5" lengthAdjust="spacingAndGlyphs">(2,081.86,</tspan> <tspan x="356" textLength="33.5" lengthAdjust="spacingAndGlyphs">2,106.19,</tspan> <tspan x="390.9" textLength="33.5" lengthAdjust="spacingAndGlyphs">2,078.04,</tspan> <tspan x="425.4" textLength="33.5" lengthAdjust="spacingAndGlyphs">2,106.04,</tspan> <tspan x="460.9" textLength="34.3" lengthAdjust="spacingAndGlyphs">+18.1301)</tspan></text>
<text y="367" font-size="8.5"><tspan x="350" textLength="25.2" lengthAdjust="spacingAndGlyphs">Volume</tspan> <tspan x="378.9" textLength="9.2" lengthAdjust="spacingAndGlyphs">(0)</tspan></text>
</g>
</svg>
</body></html>
